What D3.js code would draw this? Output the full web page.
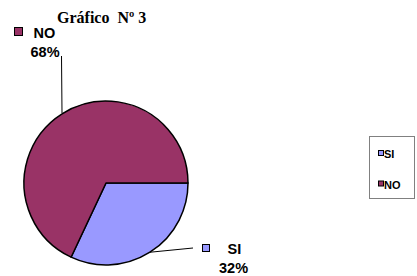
<!DOCTYPE html>
<html><head><meta charset="utf-8">
<script src="https://cdn.jsdelivr.net/npm/d3@7"></script>
<style>body{margin:0;background:#fff}svg{display:block}</style>
</head><body>
<svg id="c" width="417" height="276"></svg>
<script>
const categories = ["SI", "NO"];
const values = [32, 68];
const colors = ["#9999FF", "#993366"];
const labels = ["32%", "68%"];
const title = "Gráfico  Nº 3";

const svg = d3.select("#c");
const cx = 106, cy = 183, r = 82;

svg.append("text").attr("x", 57).attr("y", 23)
  .attr("font-family", "Liberation Serif, Times New Roman, serif")
  .attr("font-weight", "bold").attr("font-size", 16).attr("fill", "#000")
  .attr("xml:space", "preserve").style("white-space", "pre")
  .text(title);

const pie = d3.pie().sort(null).startAngle(Math.PI / 2).endAngle(Math.PI / 2 + 2 * Math.PI);
const arcs = pie(values);
const arc = d3.arc().innerRadius(0).outerRadius(r);
const g = svg.append("g").attr("transform", `translate(${cx},${cy})`);
g.selectAll("path").data(arcs).join("path")
  .attr("d", arc).attr("fill", (d, i) => colors[i])
  .attr("stroke", "#000").attr("stroke-width", 1.5).attr("stroke-linejoin", "round");

const pt = (a) => [cx + Math.sin(a) * r, cy - Math.cos(a) * r];
const siMid = (arcs[0].startAngle + arcs[0].endAngle) / 2;
const siP = pt(siMid);
svg.append("path").attr("d", `M${siP[0]},${siP[1]} L193,248`).attr("stroke", "#000").attr("fill", "none").attr("stroke-width", 1);
svg.append("path").attr("d", `M61.5,56 L62,113`).attr("stroke", "#000").attr("fill", "none").attr("stroke-width", 1);

const lblFont = "Liberation Sans, Arial, sans-serif";
svg.append("rect").attr("x", 14.5).attr("y", 27.5).attr("width", 8).attr("height", 8)
  .attr("fill", colors[1]).attr("stroke", "#000").attr("stroke-width", 1);
svg.append("text").attr("x", 33.5).attr("y", 38).attr("font-family", lblFont).attr("font-weight", "bold")
  .attr("font-size", 14.5).text(categories[1]);
svg.append("text").attr("x", 30.5).attr("y", 57).attr("font-family", lblFont).attr("font-weight", "bold")
  .attr("font-size", 14.5).text(labels[1]);
svg.append("rect").attr("x", 202.5).attr("y", 244.5).attr("width", 7).attr("height", 7)
  .attr("fill", colors[0]).attr("stroke", "#000").attr("stroke-width", 1);
svg.append("text").attr("x", 227.5).attr("y", 254).attr("font-family", lblFont).attr("font-weight", "bold")
  .attr("font-size", 14.5).text(categories[0]);
svg.append("text").attr("x", 219).attr("y", 272.5).attr("font-family", lblFont).attr("font-weight", "bold")
  .attr("font-size", 14.5).text(labels[0]);

svg.append("rect").attr("x", 369.5).attr("y", 136.5).attr("width", 45).attr("height", 62)
  .attr("fill", "#fff").attr("stroke", "#808080").attr("stroke-width", 1);
const ly = [150, 180.5];
categories.forEach((c, i) => {
  svg.append("rect").attr("x", 378.5).attr("y", ly[i] + 0.5).attr("width", 5).attr("height", 5)
    .attr("fill", colors[i]).attr("stroke", "#000").attr("stroke-width", 1);
  svg.append("text").attr("x", 384).attr("y", ly[i] + 8).attr("font-family", lblFont)
    .attr("font-weight", "bold").attr("font-size", 11).text(c);
});
</script>
</body></html>
